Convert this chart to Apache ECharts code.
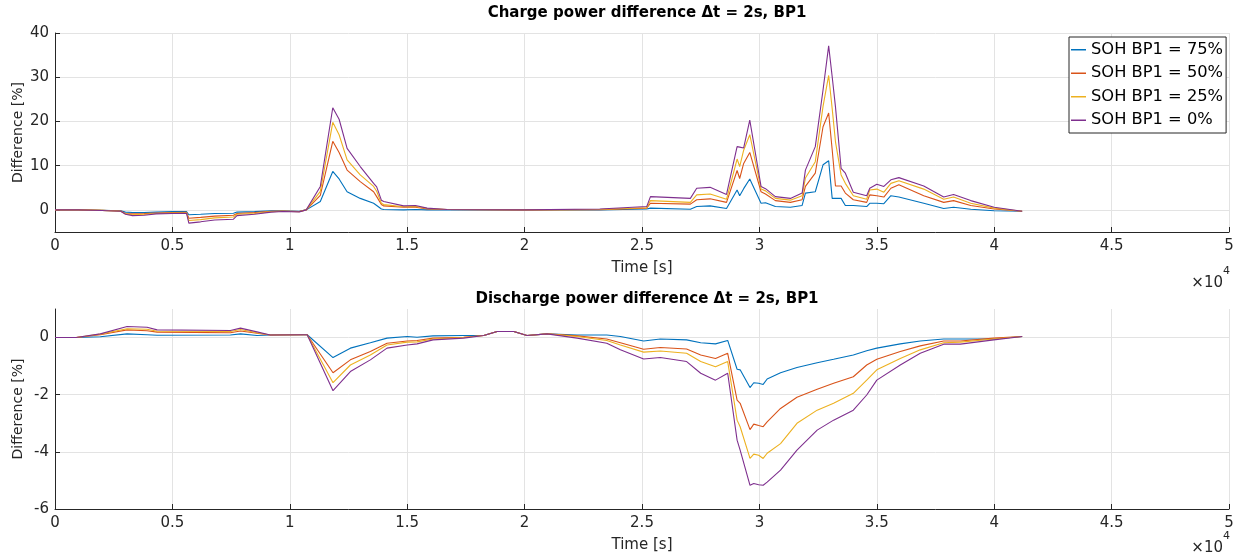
<!DOCTYPE html>
<html>
<head>
<meta charset="utf-8">
<script src="https://cdn.jsdelivr.net/npm/echarts@6/dist/echarts.min.js"></script>
<style>
html,body{margin:0;padding:0;background:#fff;}
#chart{width:1233px;height:560px;}
</style>
</head>
<body>
<div id="chart"></div>
<script>
// ---------- DATA ----------
const seriesNames = ['SOH BP1 = 75%', 'SOH BP1 = 50%', 'SOH BP1 = 25%', 'SOH BP1 = 0%'];
const xTickLabels = ['0', '0.5', '1', '1.5', '2', '2.5', '3', '3.5', '4', '4.5', '5'];

// Charge power difference (top)
const chargeTime = [0, 1000, 2000, 2800, 3000, 3300, 3800, 4300, 5000, 5600, 5700, 6200, 6800, 7600, 7750, 8500, 9200, 9700, 10400, 10700,
  11300, 11830, 12100, 12440, 13000, 13570, 13700, 13900, 14000, 14850, 15350, 15850, 16700, 20000, 23200, 25200, 25360, 27060, 27330, 27900,
  28600, 29050, 29160, 29330, 29590, 30070, 30260, 30680, 31320, 31820, 31960, 32380, 32710, 32950, 33100, 33240, 33480, 33660, 34000, 34570,
  34700, 35000, 35300, 35600, 35940, 37000, 37850, 38270, 39000, 40000, 41190];
const charge75 = [0, 0, -0.1, -0.2, -0.5, -0.6, -0.6, -0.5, -0.4, -0.4, -1.1, -1.0, -0.8, -0.75, -0.5, -0.4, -0.2, -0.2, -0.3, 0,
  1.9, 8.7, 7.0, 4.1, 2.6, 1.5, 1.0, 0.2, 0.1, 0, 0.1, 0, 0.05, 0, 0, 0.2, 0.4, 0.15, 0.75, 0.9,
  0.3, 4.5, 3.2, 4.8, 7.0, 1.5, 1.6, 0.75, 0.6, 1.0, 3.8, 4.1, 10.2, 11.1, 2.6, 2.6, 2.6, 1.0, 1.0, 0.75,
  1.5, 1.5, 1.4, 3.2, 2.9, 1.5, 0.3, 0.6, 0.15, -0.2, -0.3];
const charge50 = [0, 0, -0.1, -0.25, -0.8, -0.9, -0.85, -0.7, -0.6, -0.55, -1.9, -1.7, -1.4, -1.2, -0.8, -0.6, -0.3, -0.25, -0.35, 0,
  3.3, 15.5, 13.0, 9.0, 6.4, 4.1, 3.0, 1.2, 0.9, 0.6, 0.6, 0.2, 0.1, 0, 0.05, 0.4, 1.5, 1.3, 2.3, 2.5,
  1.7, 8.9, 7.1, 10.5, 13.0, 4.1, 3.6, 2.1, 1.7, 2.3, 5.3, 8.3, 18.8, 21.9, 13.6, 5.4, 5.4, 3.8, 2.3, 1.7,
  3.4, 3.2, 2.9, 4.9, 5.7, 3.2, 1.7, 2.1, 1.0, 0.2, -0.3];
const charge25 = [0, 0, -0.1, -0.3, -0.9, -1.1, -1.0, -0.8, -0.7, -0.65, -2.4, -2.2, -1.8, -1.6, -1.0, -0.8, -0.4, -0.3, -0.4, 0,
  4.2, 19.8, 17.0, 11.3, 7.9, 5.3, 4.2, 1.5, 1.2, 0.7, 0.8, 0.3, 0.1, 0, 0.1, 0.5, 2.1, 1.7, 3.4, 3.6,
  2.4, 11.5, 9.8, 13.5, 17.0, 4.7, 4.3, 2.6, 2.2, 3.2, 7.2, 10.9, 23.4, 30.4, 22.9, 15.4, 7.9, 6.0, 3.2, 2.4,
  4.5, 4.7, 4.0, 6.0, 6.6, 4.7, 2.4, 2.9, 1.5, 0.4, -0.3];
const charge0 = [0, 0, -0.15, -0.3, -1.0, -1.3, -1.2, -0.9, -0.8, -0.75, -3.0, -2.7, -2.3, -2.1, -1.3, -1.0, -0.5, -0.35, -0.45, 0,
  5.3, 23.1, 20.5, 13.9, 9.8, 6.0, 5.2, 2.2, 1.9, 0.9, 1.0, 0.4, 0.1, 0, 0.2, 0.75, 3.0, 2.6, 4.9, 5.1,
  3.5, 14.3, 14.2, 14.0, 20.3, 5.3, 4.8, 3.0, 2.6, 3.8, 9.0, 14.3, 27.1, 37.1, 30.1, 23.3, 9.4, 8.3, 4.0, 3.2,
  4.9, 5.8, 5.3, 6.8, 7.3, 5.4, 2.9, 3.5, 2.1, 0.6, -0.3];

// Discharge power difference (bottom)
const dischargeTime = [0, 900, 1930, 3070, 3920, 4350, 7470, 7900, 8600, 9170, 10600, 10740, 11840, 12580, 13430, 14140, 15000, 15420, 16100, 17400,
  18260, 18830, 19540, 20100, 20960, 22240, 23500, 24080, 25070, 25780, 26900, 27500, 28130, 28650, 29050, 29180, 29600, 29760, 29970, 30160,
  30330, 30900, 31600, 32460, 33160, 34000, 34570, 35000, 36000, 36850, 37850, 38560, 39980, 41190];
const discharge75 = [0, 0, 0.03, 0.13, 0.1, 0.08, 0.09, 0.13, 0.07, 0.09, 0.1, 0.1, -0.7, -0.37, -0.18, -0.02, 0.04, 0.01, 0.06, 0.07,
  0.07, 0.21, 0.21, 0.07, 0.13, 0.09, 0.09, 0.04, -0.12, -0.05, -0.08, -0.18, -0.22, -0.1, -1.11, -1.13, -1.75, -1.58, -1.6, -1.64,
  -1.45, -1.23, -1.05, -0.88, -0.76, -0.61, -0.46, -0.37, -0.22, -0.12, -0.05, -0.05, -0.05, 0.04];
const discharge50 = [0, 0, 0.1, 0.27, 0.24, 0.19, 0.17, 0.23, 0.15, 0.09, 0.1, 0.1, -1.23, -0.78, -0.49, -0.2, -0.12, -0.1, -0.02, 0.01,
  0.07, 0.21, 0.21, 0.07, 0.13, 0.06, -0.05, -0.18, -0.41, -0.35, -0.4, -0.61, -0.73, -0.55, -2.19, -2.3, -3.22, -3.03, -3.08, -3.12,
  -2.95, -2.48, -2.09, -1.81, -1.6, -1.37, -0.96, -0.76, -0.49, -0.29, -0.12, -0.12, -0.02, 0.04];
const discharge25 = [0, 0, 0.12, 0.31, 0.29, 0.22, 0.21, 0.28, 0.17, 0.09, 0.1, 0.1, -1.58, -0.96, -0.61, -0.26, -0.16, -0.15, -0.05, 0,
  0.07, 0.21, 0.21, 0.07, 0.13, 0.04, -0.1, -0.26, -0.51, -0.47, -0.55, -0.84, -1.02, -0.84, -2.89, -3.12, -4.23, -4.08, -4.12, -4.23,
  -4.05, -3.71, -3.0, -2.54, -2.3, -1.95, -1.49, -1.13, -0.73, -0.43, -0.18, -0.16, -0.05, 0.04];
const discharge0 = [0, 0, 0.13, 0.39, 0.36, 0.27, 0.25, 0.33, 0.2, 0.09, 0.1, 0.1, -1.86, -1.19, -0.78, -0.37, -0.26, -0.22, -0.08, -0.02,
  0.07, 0.21, 0.21, 0.07, 0.13, -0.02, -0.2, -0.43, -0.75, -0.7, -0.84, -1.25, -1.49, -1.25, -3.59, -3.94, -5.17, -5.11, -5.15, -5.17,
  -5.06, -4.64, -3.94, -3.24, -2.89, -2.54, -2.01, -1.49, -0.96, -0.55, -0.23, -0.23, -0.08, 0.04];

// ---------- STYLE ----------
const colors = ['#0072BD', '#D95319', '#EDB120', '#7E2F8E'];
const FONT = '"DejaVu Sans", "Liberation Sans", Arial, sans-serif';
const AXIS_COLOR = '#262626';
const GRID_COLOR = '#e3e3e3';

function pairs(t, v) { return t.map((x, i) => [x, v[i]]); }

function makeX(gridIndex) {
  return {
    gridIndex: gridIndex, type: 'value', min: 0, max: 50000, interval: 5000,
    name: 'Time [s]', nameLocation: 'middle', nameGap: 29, nameMoveOverlap: false,
    nameTextStyle: { fontFamily: FONT, fontSize: 15, color: AXIS_COLOR },
    axisLine: { show: true, onZero: false, lineStyle: { color: AXIS_COLOR, width: 1 } },
    axisTick: { show: true, inside: true, length: 5, lineStyle: { color: AXIS_COLOR } },
    axisLabel: { fontFamily: FONT, fontSize: 15, color: AXIS_COLOR, margin: 7,
      formatter: v => xTickLabels[Math.round(v / 5000)] },
    splitLine: { show: true, lineStyle: { color: GRID_COLOR, width: 1 } }
  };
}

function makeY(gridIndex, extra) {
  return Object.assign({
    gridIndex: gridIndex, type: 'value',
    name: 'Difference [%]', nameLocation: 'middle', nameGap: 30, nameRotate: 90, nameMoveOverlap: false,
    nameTextStyle: { fontFamily: FONT, fontSize: 14, color: AXIS_COLOR },
    axisLine: { show: true, onZero: false, lineStyle: { color: AXIS_COLOR } },
    axisTick: { show: true, inside: true, length: 5, lineStyle: { color: AXIS_COLOR } }
  }, extra);
}

const chargeSeries = [charge75, charge50, charge25, charge0];
const dischargeSeries = [discharge75, discharge50, discharge25, discharge0];

const series = [];
chargeSeries.forEach((v, i) => series.push({
  name: seriesNames[i], type: 'line', xAxisIndex: 0, yAxisIndex: 0,
  data: pairs(chargeTime, v), symbol: 'none', showSymbol: false,
  lineStyle: { color: colors[i], width: 1.1 }, itemStyle: { color: colors[i] },
  animation: false, z: 3 + i
}));
dischargeSeries.forEach((v, i) => series.push({
  name: seriesNames[i], type: 'line', xAxisIndex: 1, yAxisIndex: 1,
  data: pairs(dischargeTime, v), symbol: 'none', showSymbol: false,
  lineStyle: { color: colors[i], width: 1.1 }, itemStyle: { color: colors[i] },
  animation: false, z: 3 + i
}));

const chart = echarts.init(document.getElementById('chart'), null, { renderer: 'canvas' });
chart.setOption({
  backgroundColor: '#ffffff',
  animation: false,
  title: [
    { text: 'Charge power difference \u0394t = 2s, BP1', left: 642, top: 1, textAlign: 'center',
      textStyle: { fontFamily: FONT, fontSize: 15, fontWeight: 'bold', color: '#000' } },
    { text: 'Discharge power difference \u0394t = 2s, BP1', left: 642, top: 287, textAlign: 'center',
      textStyle: { fontFamily: FONT, fontSize: 15, fontWeight: 'bold', color: '#000' } }
  ],
  grid: [
    { left: 55, top: 33, width: 1174, height: 199, containLabel: false, outerBoundsMode: 'none' },
    { left: 55, top: 309, width: 1174, height: 200, containLabel: false, outerBoundsMode: 'none' }
  ],
  xAxis: [makeX(0), makeX(1)],
  yAxis: [
    makeY(0, { min: -5, max: 40, minInterval: 10, maxInterval: 10, splitNumber: 5,
      axisLabel: { fontFamily: FONT, fontSize: 15, color: AXIS_COLOR, margin: 6, showMinLabel: false },
      splitLine: { show: true, showMinLine: false, lineStyle: { color: GRID_COLOR } } }),
    makeY(1, { min: -6, max: 1, interval: 2,
      axisLabel: { fontFamily: FONT, fontSize: 15, color: AXIS_COLOR, margin: 6, showMaxLabel: false },
      splitLine: { show: true, showMaxLine: false, showMinLine: false, lineStyle: { color: GRID_COLOR } } })
  ],
  legend: {
    show: true,
    data: seriesNames, orient: 'vertical', left: 1069, top: 37,
    padding: [3, 3, 3, 2], itemGap: 4, itemWidth: 15, itemHeight: 1.5, icon: 'rect',
    backgroundColor: '#ffffff', borderColor: AXIS_COLOR, borderWidth: 1, borderRadius: 0,
    textStyle: { fontFamily: FONT, fontSize: 16.3, color: '#000', lineHeight: 19.5 },
    selectedMode: false, z: 10
  },
  graphic: [
    { type: 'text', right: 10, top: 276, style: { text: '\u00d710', fontFamily: FONT, fontSize: 15, fill: AXIS_COLOR } },
    { type: 'text', left: 1223, top: 266, style: { text: '4', fontFamily: FONT, fontSize: 11, fill: AXIS_COLOR } },
    { type: 'text', right: 10, top: 541, style: { text: '\u00d710', fontFamily: FONT, fontSize: 15, fill: AXIS_COLOR } },
    { type: 'text', left: 1223, top: 531, style: { text: '4', fontFamily: FONT, fontSize: 11, fill: AXIS_COLOR } }
  ],
  series: series
});
</script>
</body>
</html>
